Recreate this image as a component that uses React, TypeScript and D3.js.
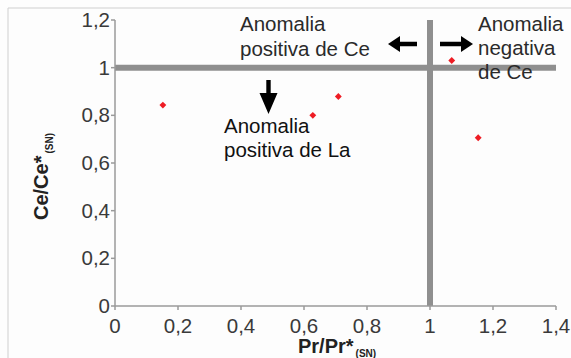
import React from "react";
import * as d3 from "d3";

const prValues = [0.152, 0.628, 0.709, 1.069, 1.153];
const ceValues = [0.843, 0.8, 0.879, 1.03, 0.706];
const xTicks = [0, 0.2, 0.4, 0.6, 0.8, 1, 1.2, 1.4];
const yTicks = [0, 0.2, 0.4, 0.6, 0.8, 1, 1.2];
const refX = 1;
const refY = 1;

const W = 571;
const H = 358;
const FONT = "'Liberation Sans', Arial, sans-serif";
const fmt = (v: number) => String(+v.toFixed(1)).replace(".", ",");

export default function App() {
  const x = d3.scaleLinear().domain([0, 1.4]).range([115, 556]);
  const y = d3.scaleLinear().domain([0, 1.2]).range([306, 20]);
  const diamond = d3.symbol().type(d3.symbolDiamond2).size(30)();
  const axisColor = "#9a9a9a";
  const textColor = "#3a3a3a";
  const refColor = "#8f8f8f";

  return (
    <svg
      width={W}
      height={H}
      style={{ position: "absolute", left: 0, top: 0, background: "#fdfdfd" }}
      fontFamily={FONT}
    >
      {/* frame */}
      <line x1={8} y1={8} x2={W} y2={8} stroke="#cfcfcf" strokeWidth={1} />
      <line x1={8} y1={8} x2={8} y2={H} stroke="#cfcfcf" strokeWidth={1} />

      {/* reference lines */}
      <line x1={x(0)} x2={x(1.4)} y1={y(refY)} y2={y(refY)} stroke={refColor} strokeWidth={6} />
      <line x1={x(refX)} x2={x(refX)} y1={y(1.2)} y2={y(0)} stroke={refColor} strokeWidth={6} />

      {/* axes */}
      <line x1={x(0)} x2={x(0)} y1={y(1.2)} y2={y(0)} stroke={axisColor} strokeWidth={1.5} />
      <line x1={x(0)} x2={x(1.4)} y1={y(0)} y2={y(0)} stroke={axisColor} strokeWidth={1.5} />
      {yTicks.map((t) => (
        <g key={"y" + t}>
          <line x1={x(0) - 4} x2={x(0)} y1={y(t)} y2={y(t)} stroke={axisColor} strokeWidth={1.5} />
          <text x={x(0) - 5} y={y(t) + 7} textAnchor="end" fontSize={20.5} fill={textColor}>
            {fmt(t)}
          </text>
        </g>
      ))}
      {xTicks.map((t) => (
        <g key={"x" + t}>
          <line x1={x(t)} x2={x(t)} y1={y(0)} y2={y(0) + 4} stroke={axisColor} strokeWidth={1.5} />
          <text x={x(t)} y={333} textAnchor="middle" fontSize={20.5} fill={textColor}>
            {fmt(t)}
          </text>
        </g>
      ))}

      {/* axis titles */}
      <text x={298} y={353} fontSize={20} fontWeight="bold" fill="#222">
        Pr/Pr*
        <tspan fontSize={10} dy={4} dx={2}>(SN)</tspan>
      </text>
      <text
        transform="translate(48,220) rotate(-90)"
        fontSize={20}
        fontWeight="bold"
        fill="#222"
      >
        Ce/Ce*
        <tspan fontSize={10} dy={5} dx={2}>(SN)</tspan>
      </text>

      {/* points */}
      {prValues.map((p, i) => (
        <path
          key={"p" + i}
          d={diamond as string}
          transform={`translate(${x(p)},${y(ceValues[i])})`}
          fill="#ee1c24"
        />
      ))}

      {/* annotations */}
      <text x={240} y={31} fontSize={20.5} fill="#2a2a2a">
        <tspan x={240}>Anomalia</tspan>
        <tspan x={240} dy={24.5}>positiva de Ce</tspan>
      </text>
      <text x={478} y={31} fontSize={20.5} fill="#2a2a2a">
        <tspan x={478}>Anomalia</tspan>
        <tspan x={478} dy={24}>negativa</tspan>
        <tspan x={478} dy={24}>de Ce</tspan>
      </text>
      <text x={224} y={133} fontSize={20.5} fill="#111">
        <tspan x={224}>Anomalia</tspan>
        <tspan x={224} dy={23.5}>positiva de La</tspan>
      </text>

      {/* arrows */}
      <path d="M417,41.8 L400,41.8 L400,36 L388,44 L400,52 L400,46.2 L417,46.2 Z" fill="#000" />
      <path d="M440,41.8 L461,41.8 L461,36 L473,44 L461,52 L461,46.2 L440,46.2 Z" fill="#000" />
      <path d="M266.3,80 L266.3,93 L259.5,93 L268.5,114 L277.5,93 L270.7,93 L270.7,80 Z" fill="#000" />
    </svg>
  );
}
